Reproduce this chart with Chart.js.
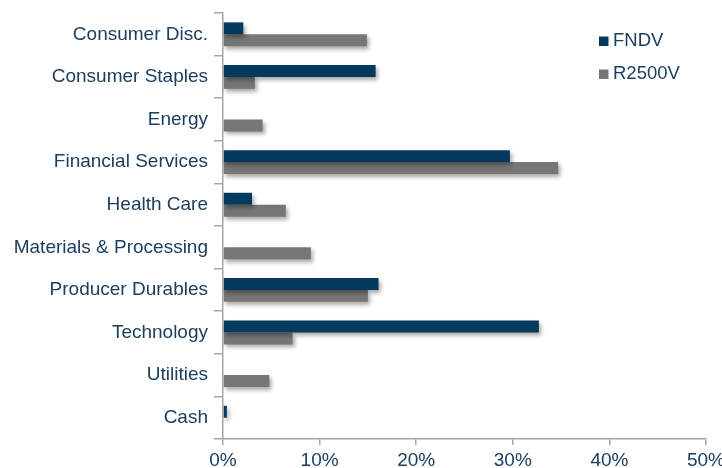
<!DOCTYPE html>
<html>
<head>
<meta charset="utf-8">
<script src="https://cdn.jsdelivr.net/npm/chart.js@4/dist/chart.umd.min.js"></script>
<style>
  html,body{margin:0;padding:0;background:#fff;}
  #wrap{position:relative;width:722px;height:468px;}
</style>
</head>
<body>
<div id="wrap"><canvas id="c" width="722" height="468"></canvas></div>
<script>
const categories = ["Consumer Disc.", "Consumer Staples", "Energy", "Financial Services", "Health Care",
  "Materials & Processing", "Producer Durables", "Technology", "Utilities", "Cash"];
const fndv = [2.1, 15.8, 0, 29.7, 3.0, 0, 16.1, 32.7, 0, 0.4];
const r2500v = [14.9, 3.3, 4.1, 34.7, 6.5, 9.1, 15.0, 7.2, 4.8, 0];
const seriesNames = ["FNDV", "R2500V"];
const xTicks = [0, 10, 20, 30, 40, 50];

const TEXT = "#1c3f60";
const AXIS = "#a6a6a6";
const FONT = "'Liberation Sans', Arial, sans-serif";
const COLORS = ["#033a5e", "#767676"];

const shadowPlugin = {
  id: "barShadow",
  beforeDatasetsDraw(chart) {
    const ctx = chart.ctx;
    ctx.save();
    ctx.shadowColor = "rgba(0,0,0,0.35)";
    ctx.shadowBlur = 4;
    ctx.shadowOffsetX = 2;
    ctx.shadowOffsetY = 3;
  },
  afterDatasetsDraw(chart) {
    chart.ctx.restore();
  }
};

const legendPlugin = {
  id: "sideLegend",
  afterDraw(chart) {
    const ctx = chart.ctx;
    ctx.save();
    ctx.font = "18.5px " + FONT;
    ctx.textBaseline = "middle";
    ctx.textAlign = "left";
    chart.data.datasets.forEach((ds, i) => {
      const y = 41 + i * 33;
      ctx.fillStyle = ds.backgroundColor;
      ctx.fillRect(599, y - 4.5, 9.5, 9.5);
      ctx.fillStyle = TEXT;
      ctx.fillText(ds.label, 613, y);
    });
    ctx.restore();
  }
};

new Chart(document.getElementById("c"), {
  type: "bar",
  data: {
    labels: categories,
    datasets: [
      { label: seriesNames[0], data: fndv, backgroundColor: COLORS[0] },
      { label: seriesNames[1], data: r2500v, backgroundColor: COLORS[1] }
    ]
  },
  options: {
    indexAxis: "y",
    responsive: false,
    animation: false,
    devicePixelRatio: 1,
    layout: { padding: { top: 13, right: 16, left: 0, bottom: 0 } },
    datasets: { bar: { categoryPercentage: 0.56, barPercentage: 1.0 } },
    plugins: {
      legend: { display: false },
      tooltip: { enabled: false }
    },
    scales: {
      x: {
        min: 0, max: 50,
        afterBuildTicks(scale) { scale.ticks = xTicks.map(v => ({ value: v })); },
        afterFit(scale) { scale.height = 29; scale.paddingLeft = 0; scale.paddingRight = 0; },
        border: { color: AXIS, width: 1.5 },
        grid: { drawOnChartArea: false, color: AXIS, tickLength: 6, lineWidth: 1.5 },
        ticks: {
          color: TEXT, font: { family: FONT, size: 19 }, padding: 4,
          maxRotation: 0,
          callback: v => v + "%"
        }
      },
      y: {
        afterFit(scale) { scale.width = 223; scale.paddingTop = 0; scale.paddingBottom = 0; },
        border: { color: AXIS, width: 1.5 },
        grid: { drawOnChartArea: false, color: AXIS, tickLength: 9, lineWidth: 1.5, offset: true },
        ticks: { color: TEXT, font: { family: FONT, size: 19 }, padding: 6 }
      }
    }
  },
  plugins: [shadowPlugin, legendPlugin]
});
</script>
</body>
</html>
